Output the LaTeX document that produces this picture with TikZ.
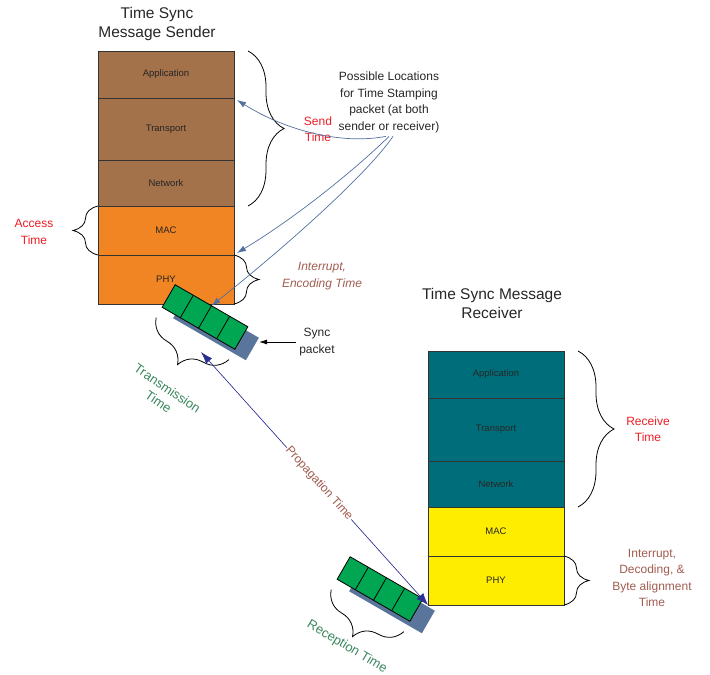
\documentclass[tikz,border=0pt]{standalone}
\usepackage{fontspec}
\setmainfont{Liberation Sans}
\usetikzlibrary{positioning,calc,arrows.meta,decorations.pathreplacing}

\definecolor{upperbrown}{RGB}{163,113,74}
\definecolor{lowerorange}{RGB}{241,133,35}
\definecolor{upperteal}{RGB}{0,110,122}
\definecolor{loweryellow}{RGB}{255,237,0}
\definecolor{pktgreen}{RGB}{0,166,81}
\definecolor{pktshadow}{RGB}{90,117,155}
\definecolor{stampblue}{RGB}{82,112,160}
\definecolor{propblue}{RGB}{45,45,150}
\definecolor{timered}{RGB}{237,28,36}
\definecolor{timebrown}{RGB}{160,92,80}
\definecolor{timegreen}{RGB}{60,135,95}

\tikzset{
  layer/.style={rectangle, draw=black!80, line width=0.9pt, minimum width=136pt, inner sep=0pt, outer sep=0pt, font=\fontsize{9.5}{10}\selectfont, text=black!85},
  packet/.style={rectangle, draw=black, line width=0.8pt, fill=pktgreen, minimum width=84pt, minimum height=26pt, inner sep=0pt, outer sep=0pt, rotate=-30},
  pshadow/.style={rectangle, fill=pktshadow, minimum width=84pt, minimum height=26pt, inner sep=0pt, rotate=-30},
  title/.style={align=center, font=\fontsize{15.5}{19}\selectfont, text=black!85},
  note/.style={align=center, font=\fontsize{12}{16.5}\selectfont, text=black!85},
  bigbrace/.style={decorate, decoration={brace, amplitude=36pt}, line width=0.8pt},
  smallbrace/.style={decorate, decoration={brace, amplitude=25pt}, line width=0.8pt},
  pktbrace/.style={decorate, decoration={brace, amplitude=30pt, raise=12pt}, line width=0.8pt},
  stamp/.style={-{Latex[length=9pt,width=6pt]}, draw=stampblue, line width=0.7pt},
  prop/.style={{Latex[length=12pt,width=8pt]}-{Latex[length=12pt,width=9pt]}, draw=propblue, fill=propblue, line width=0.6pt}
}

\begin{document}
\begin{tikzpicture}[x=1pt, y=-1pt]
  \useasboundingbox (0,0) rectangle (710,675);

  % Sender stack
  \node[title] (stitle) at (157,23.5) {Time Sync\\Message Sender};
  \node[layer, fill=upperbrown, minimum height=47pt] (sapp) at (166,74.5) {Application};
  \node[layer, fill=upperbrown, minimum height=62pt, below=0pt of sapp] (strans) {Transport};
  \node[layer, fill=upperbrown, minimum height=46pt, below=0pt of strans] (snet) {Network};
  \node[layer, fill=lowerorange, minimum height=49pt, below=0pt of snet] (smac) {MAC};
  \node[layer, fill=lowerorange, minimum height=49pt, below=0pt of smac] (sphy) {PHY};

  % Receiver stack
  \node[title] (rtitle) at (492,303) {Time Sync Message\\Receiver};
  \node[layer, fill=upperteal, minimum height=47pt] (rapp) at (496,374.5) {Application};
  \node[layer, fill=upperteal, minimum height=63pt, below=0pt of rapp] (rtrans) {Transport};
  \node[layer, fill=upperteal, minimum height=46pt, below=0pt of rtrans] (rnet) {Network};
  \node[layer, fill=loweryellow, minimum height=49pt, below=0pt of rnet] (rmac) {MAC};
  \node[layer, fill=loweryellow, minimum height=49pt, below=0pt of rmac] (rphy) {PHY};

  % Braces at the stacks
  \draw[bigbrace] ([xshift=14pt]sapp.north east) -- ([xshift=14pt]snet.south east);
  \draw[smallbrace] (smac.south west) -- (smac.north west);
  \draw[smallbrace] (sphy.north east) -- (sphy.south east);
  \draw[bigbrace] ([xshift=14pt]rapp.north east) -- ([xshift=14pt]rnet.south east);
  \draw[smallbrace] (rphy.north east) -- (rphy.south east);

  % Time labels
  \node[note, text=timered] (send) at (318,129) {Send\\Time};
  \node[note, text=timered] (access) at (34,232) {Access\\Time};
  \node[note, text=timebrown, font=\fontsize{12}{16.5}\selectfont\itshape] (encode) at (322,276) {Interrupt,\\Encoding Time};
  \node[note, text=timered] (receive) at (648,429) {Receive\\Time};
  \node[note, text=timebrown] (decode) at (652,578) {Interrupt,\\Decoding, \&\\Byte alignment\\Time};
  \node[note] (locs) at (389,102.5) {Possible Locations\\for Time Stamping\\packet (at both\\sender or receiver)};
  \node[note] (sync) at (317,342) {Sync\\packet};

  % Packets
  \node[pshadow] (sshadow) at (216,328) {};
  \node[packet] (spkt) at (205,317) {};
  \foreach \p in {0.25,0.5,0.75}
    \draw[line width=0.8pt] ($(spkt.north west)!\p!(spkt.north east)$) -- ($(spkt.south west)!\p!(spkt.south east)$);
  \node[pshadow] (rshadow) at (392,601) {};
  \node[packet] (rpkt) at (380,589) {};
  \foreach \p in {0.25,0.5,0.75}
    \draw[line width=0.8pt] ($(rpkt.north west)!\p!(rpkt.north east)$) -- ($(rpkt.south west)!\p!(rpkt.south east)$);

  \draw[pktbrace] (spkt.south east) -- (spkt.south west);
  \draw[pktbrace] (rpkt.south east) -- (rpkt.south west);
  \node[note, text=timegreen, font=\fontsize{13}{16}\selectfont, rotate=-34] (trans) at (163,395) {Transmission\\Time};
  \node[note, text=timegreen, font=\fontsize{13}{16}\selectfont, rotate=-31] (recep) at (347,647) {Reception Time};

  % Time stamping arrows
  \draw[stamp] ([xshift=-3pt]locs.south) .. controls (340,145) and (285,130) .. ([xshift=3pt,yshift=-2pt]strans.north east);
  \draw[stamp] (locs.south) .. controls (360,165) and (300,215) .. ([xshift=3pt,yshift=2pt]smac.south east);
  \draw[stamp] ([xshift=4pt]locs.south) .. controls (370,170) and (300,235) .. (spkt.north);

  % Sync packet and propagation
  \draw[-{Latex[length=8pt,width=5pt]}, line width=0.7pt] (sync.west) -- (sync.west -| sshadow.north east);
  \coordinate (propstart) at (201,352);
  \draw[prop] (propstart) -- (rphy.south west)
    node[sloped, pos=0.52, fill=white, inner sep=1pt, text=timebrown, font=\fontsize{12}{14}\selectfont] (propl) {Propagation Time};
\end{tikzpicture}
\end{document}
